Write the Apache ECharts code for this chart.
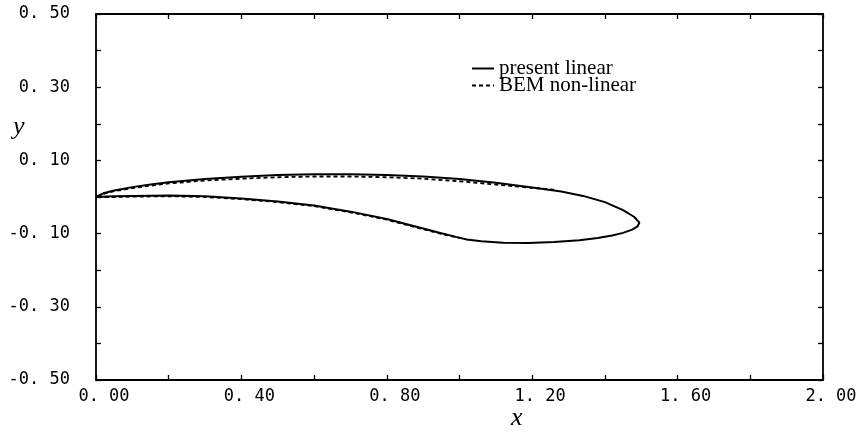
<!DOCTYPE html>
<html>
<head>
<meta charset="utf-8">
<script src="https://cdn.jsdelivr.net/npm/echarts@6/dist/echarts.min.js"></script>
<style>
html, body { margin: 0; padding: 0; background: #fff; }
#main { width: 861px; height: 435px; }
</style>
</head>
<body>
<div id="main"></div>
<script>
// present linear: closed contour, upper surface to the tip, then back along the lower side
var linearX = [0, 0.02, 0.05, 0.10, 0.15, 0.20, 0.30, 0.40, 0.50, 0.60, 0.70, 0.80, 0.90, 1.00, 1.10, 1.20, 1.28, 1.34, 1.40, 1.45, 1.48, 1.495,
    1.49, 1.475, 1.45, 1.42, 1.38, 1.33, 1.26, 1.19, 1.12, 1.06, 1.02, 0.99, 0.95, 0.90, 0.80, 0.70, 0.60, 0.50, 0.40, 0.30, 0.20, 0.10, 0.05, 0];
var linearY = [0, 0.010, 0.018, 0.027, 0.034, 0.040, 0.049, 0.055, 0.060, 0.062, 0.062, 0.060, 0.056, 0.049, 0.039, 0.026, 0.015, 0.003, -0.014, -0.036, -0.054, -0.070,
    -0.080, -0.089, -0.098, -0.105, -0.112, -0.118, -0.123, -0.126, -0.125, -0.121, -0.116, -0.109, -0.099, -0.086, -0.060, -0.040, -0.023, -0.012, -0.004, 0.002, 0.004, 0.003, 0.002, 0];

// BEM non-linear: upper side from x=1.26 back to the leading edge, then lower side to x=1.0
var bemX = [1.26, 1.20, 1.10, 1.00, 0.90, 0.80, 0.70, 0.60, 0.50, 0.40, 0.30, 0.20, 0.15, 0.10, 0.05, 0.02, 0,
    0.05, 0.10, 0.20, 0.30, 0.40, 0.50, 0.60, 0.70, 0.80, 0.90, 0.95, 1.00];
var bemY = [0.020, 0.025, 0.034, 0.043, 0.050, 0.054, 0.056, 0.056, 0.054, 0.050, 0.045, 0.037, 0.031, 0.024, 0.016, 0.008, 0,
    0.000, 0.001, 0.002, 0.000, -0.006, -0.014, -0.025, -0.042, -0.062, -0.088, -0.101, -0.112];

var xTicks = [0, 2, 0.2];     // min, max, tick step
var yTicks = [-0.5, 0.5, 0.1];

function pairs(xs, ys) {
    return xs.map(function (x, i) { return [x, ys[i]]; });
}
function fmt(v) {
    return v.toFixed(2).replace('.', '. ');
}

var myChart = echarts.init(document.getElementById('main'));
var monoFont = 'DejaVu Sans Mono';
var axisLine = { show: true, onZero: false, lineStyle: { color: '#000', width: 1.8 } };
var tick = { show: true, inside: true, length: 5, lineStyle: { color: '#000', width: 1.3 } };

option = {
    animation: false,
    backgroundColor: '#fff',
    grid: { left: 96, right: 38, top: 14, bottom: 55 },
    legend: {
        orient: 'vertical',
        left: 471,
        top: 58,
        padding: 0,
        itemWidth: 22,
        itemHeight: 10,
        itemGap: -4,
        itemStyle: { opacity: 0 },
        textStyle: { fontFamily: 'Liberation Serif', fontSize: 21, color: '#000' },
        data: ['present linear', 'BEM non-linear']
    },
    xAxis: [
        {
            type: 'value',
            min: xTicks[0], max: xTicks[1], interval: xTicks[2],
            axisLine: axisLine,
            axisTick: tick,
            splitLine: { show: false },
            axisLabel: {
                margin: 8,
                color: '#000',
                fontFamily: monoFont,
                fontSize: 17,
                padding: [0, 0, 0, 16],
                formatter: function (v) {
                    return Math.round(v * 10) % 4 === 0 ? fmt(v) : '';
                }
            }
        },
        {
            type: 'value', position: 'top',
            min: xTicks[0], max: xTicks[1], interval: xTicks[2],
            axisLine: axisLine, axisTick: tick,
            axisLabel: { show: false }, splitLine: { show: false }
        }
    ],
    yAxis: [
        {
            type: 'value',
            min: yTicks[0], max: yTicks[1], interval: yTicks[2],
            axisLine: axisLine,
            axisTick: tick,
            splitLine: { show: false },
            axisLabel: {
                margin: 26,
                color: '#000',
                fontFamily: monoFont,
                fontSize: 17,
                formatter: function (v) {
                    return Math.abs(Math.round(v * 10)) % 2 === 1 ? fmt(v) : '';
                }
            }
        },
        {
            type: 'value', position: 'right',
            min: yTicks[0], max: yTicks[1], interval: yTicks[2],
            axisLine: axisLine, axisTick: tick,
            axisLabel: { show: false }, splitLine: { show: false }
        }
    ],
    graphic: [
        {
            type: 'text', left: 511, top: 405,
            style: { text: 'x', font: 'italic 26px "Liberation Serif"', fill: '#000' }
        },
        {
            type: 'text', left: 13, top: 114,
            style: { text: 'y', font: 'italic 26px "Liberation Serif"', fill: '#000' }
        }
    ],
    series: [
        {
            name: 'present linear',
            type: 'line',
            symbol: 'none',
            color: '#000',
            lineStyle: { color: '#000', width: 2 },
            data: pairs(linearX, linearY)
        },
        {
            name: 'BEM non-linear',
            type: 'line',
            symbol: 'none',
            color: '#000',
            lineStyle: { color: '#000', width: 1.8, type: [4, 3] },
            data: pairs(bemX, bemY)
        }
    ]
};
myChart.setOption(option);
</script>
</body>
</html>
